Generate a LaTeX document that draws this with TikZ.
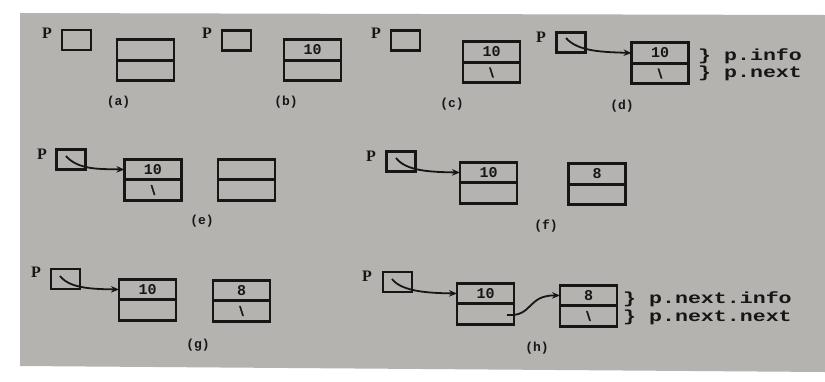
\documentclass[tikz,border=0pt]{standalone}
\usepackage{fontspec}
\setmainfont{Liberation Serif}
\newfontfamily\codefont[FakeStretch=1.35]{Liberation Mono}
\newfontfamily\numfont{Liberation Mono}
\newfontfamily\heavyfont[FakeBold=2.5]{DejaVu Sans}
\usetikzlibrary{arrows.meta,calc}
\definecolor{bg}{RGB}{180,179,176}
\definecolor{ink}{RGB}{22,22,22}
\tikzset{
  cell/.style={draw=ink, line width=2.8pt, outer sep=0pt, minimum width=57pt, minimum height=20.5pt,
    inner sep=0pt, text=ink, font=\numfont\bfseries\fontsize{15}{16}\selectfont},
  pbox/.style={draw=ink, line width=2.8pt, minimum width=29pt, minimum height=20pt, inner sep=0pt},
  plabel/.style={text=ink, font=\bfseries\fontsize{16}{17}\selectfont, inner sep=0pt},
  caption/.style={text=ink, font=\numfont\bfseries\fontsize{13}{14}\selectfont, inner sep=0pt},
  fieldlbl/.style={text=ink, anchor=west, inner sep=0pt, font=\codefont\bfseries\fontsize{16}{17}\selectfont},
  nullp/.style={font=\heavyfont\bfseries\fontsize{12}{13}\selectfont},
  ptr/.style={draw=ink, line width=1.8pt, -{Stealth[length=8pt,width=6.5pt]}}
}
\begin{document}
\begin{tikzpicture}[x=1pt,y=-1pt]
\useasboundingbox (0,0) rectangle (825,381);
\fill[white] (0,0) rectangle (825,381);
\fill[bg] (20,13) -- (825,15) -- (825,372) -- (20,366) -- cycle;

% (a)
\node[pbox] (pa) at (76.5,40) {};
\node[plabel] (Pa) at (47,33) {P};
\node[cell] (a1i) at (145.5,50) {};
\node[cell, anchor=north] (a1n) at (a1i.south) {};
\node[caption] (capa) at (118.5,102) {(a)};

% (b)
\node[pbox] (pb) at (236.5,40.5) {};
\node[plabel] (Pb) at (207,33) {P};
\node[cell] (b1i) at (312.5,50) {10};
\node[cell, anchor=north] (b1n) at (b1i.south) {};
\node[caption] (capb) at (286,102) {(b)};

% (c)
\node[pbox] (pc) at (405.5,40.5) {};
\node[plabel] (Pc) at (376,33) {P};
\node[cell] (c1i) at (491.5,52) {10};
\node[cell, nullp, anchor=north] (c1n) at (c1i.south) {\textbackslash};
\node[caption] (capc) at (452,104) {(c)};

% (d)
\node[pbox] (pd) at (571,42.5) {};
\node[plabel] (Pd) at (541,37) {P};
\node[cell] (d1i) at (660,53) {10};
\node[cell, nullp, anchor=north] (d1n) at (d1i.south) {\textbackslash};
\node[caption] (capd) at (622,106) {(d)};
\coordinate (sd) at (566,38);
\draw[ptr] (sd) .. controls (578,52) and (605,52) .. (d1i.west);
\node[fieldlbl] (ld1) at (698,56) {\} p.info};
\node[fieldlbl] (ld2) at (698,73) {\} p.next};

% (e)
\node[pbox] (pe) at (71,159.5) {};
\node[plabel] (Pe) at (42,154) {P};
\node[cell] (e1i) at (153,169.5) {10};
\node[cell, nullp, anchor=north] (e1n) at (e1i.south) {\textbackslash};
\node[cell] (e2i) at (246.5,169.5) {};
\node[cell, anchor=north] (e2n) at (e2i.south) {};
\node[caption] (cape) at (202,221) {(e)};
\coordinate (se) at (66,156);
\draw[ptr] (se) .. controls (78,170) and (100,169) .. (e1i.west);

% (f)
\node[pbox] (pf) at (401,161.5) {};
\node[plabel] (Pf) at (371,156) {P};
\node[cell] (f1i) at (488.5,172.5) {10};
\node[cell, anchor=north] (f1n) at (f1i.south) {};
\node[cell] (f2i) at (597,174) {8};
\node[cell, anchor=north] (f2n) at (f2i.south) {};
\node[caption] (capf) at (546,226) {(f)};
\coordinate (sf) at (396,158);
\draw[ptr] (sf) .. controls (406,171) and (430,172) .. (f1i.west);

% (g)
\node[pbox] (pg) at (65.5,279) {};
\node[plabel] (Pg) at (36,272) {P};
\node[cell] (g1i) at (147.5,289.5) {10};
\node[cell, anchor=north] (g1n) at (g1i.south) {};
\node[cell] (g2i) at (241.5,290.5) {8};
\node[cell, nullp, anchor=north] (g2n) at (g2i.south) {\textbackslash};
\node[caption] (capg) at (198,345) {(g)};
\coordinate (sg) at (60,276);
\draw[ptr] (sg) .. controls (70,289) and (95,289) .. (g1i.west);

% (h)
\node[pbox] (ph) at (397.5,282) {};
\node[plabel] (Ph) at (367,276) {P};
\node[cell] (h1i) at (485.5,293.5) {10};
\node[cell, anchor=north] (h1n) at (h1i.south) {};
\node[cell] (h2i) at (588.5,295.5) {8};
\node[cell, nullp, anchor=north] (h2n) at (h2i.south) {\textbackslash};
\node[caption] (caph) at (537,348) {(h)};
\coordinate (sh) at (392,279);
\draw[ptr] (sh) .. controls (402,292) and (430,293) .. (h1i.west);
\coordinate (hs) at (507,315);
\draw[ptr] (hs) .. controls (533,317) and (527,295) .. (h2i.west);
\node[fieldlbl] (lh1) at (623,299) {\} p.next.info};
\node[fieldlbl] (lh2) at (623,317) {\} p.next.next};
\end{tikzpicture}
\end{document}
